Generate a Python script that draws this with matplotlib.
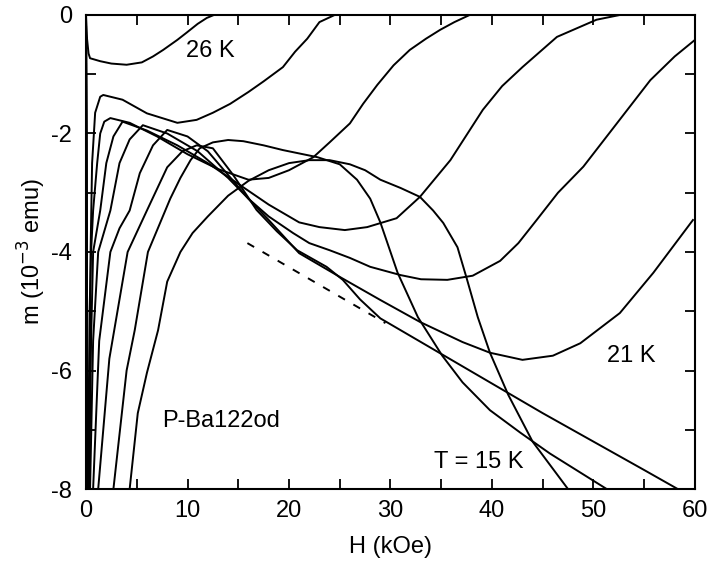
import matplotlib
matplotlib.use("Agg")
import matplotlib.pyplot as plt
from matplotlib.ticker import MultipleLocator

plt.rcParams['font.family'] = ['Liberation Sans', 'DejaVu Sans']
plt.rcParams['axes.unicode_minus'] = False

# m(H) curves, H in kOe, m in 1e-3 emu
h26 = [0.0, 0.1, 0.25, 0.4, 1.4, 2.5, 4.0, 5.5, 6.6, 7.6, 9.0, 9.9, 11.0, 11.9, 12.6]
m26 = [0.0, -0.4, -0.65, -0.73, -0.78, -0.82, -0.84, -0.8, -0.7, -0.59, -0.42, -0.3, -0.15, -0.05, 0.0]

h25 = [0.0, 0.1, 0.2, 0.3, 0.45, 0.6, 0.9, 1.4, 1.7, 3.6, 6.0, 9.0, 10.9, 12.5, 14.2, 16.0, 17.5, 19.4, 20.6, 21.8, 23.0, 24.5]
m25 = [0.0, -8.5, -8.5, -8.0, -4.0, -2.5, -1.65, -1.38, -1.35, -1.43, -1.66, -1.82, -1.77, -1.65, -1.5, -1.3, -1.12, -0.88, -0.62, -0.4, -0.12, 0.0]

h24 = [0.0, 0.1, 0.15, 0.2, 0.35, 0.5, 0.7, 1.1, 1.4, 1.8, 2.4, 4.3, 7.0, 10.0, 13.0, 16.0, 18.0, 20.0, 22.4, 24.0, 26.0,
       27.3, 28.7, 30.3, 31.9, 33.5, 34.9, 36.3, 37.8]
m24 = [0.0, -8.5, -8.5, -8.0, -5.0, -4.0, -3.3, -2.5, -2.0, -1.8, -1.74, -1.82, -2.05, -2.35, -2.6, -2.78, -2.75, -2.62, -2.4, -2.15, -1.83,
       -1.5, -1.18, -0.85, -0.59, -0.4, -0.25, -0.12, 0.0]

h23 = [0.0, 0.1, 0.2, 0.3, 0.5, 0.7, 1.4, 2.0, 2.7, 3.6, 6.0, 9.0, 12.0, 15.0, 18.0, 21.0, 23.0, 25.5, 27.7, 30.6, 32.9,
       35.9, 39.1, 41.0, 43.0, 46.4, 50.3, 52.6]
m23 = [0.0, -8.5, -8.5, -8.0, -5.5, -4.0, -3.3, -2.5, -2.05, -1.8, -1.95, -2.2, -2.5, -2.85, -3.2, -3.5, -3.58, -3.63, -3.58, -3.43, -3.07,
       -2.45, -1.6, -1.2, -0.88, -0.37, -0.08, 0.0]

h22 = [0.0, 0.1, 0.3, 0.4, 0.7, 1.2, 2.4, 3.3, 4.3, 5.6, 8.0, 11.0, 14.0, 16.0, 18.0, 20.4, 22.0, 24.0, 26.0, 28.0, 31.0,
       33.0, 35.6, 38.1, 40.8, 42.6, 44.4, 46.5, 49.0, 52.3, 55.6, 58.0, 60.0]
m22 = [0.0, -8.5, -8.5, -8.0, -5.5, -4.0, -3.3, -2.5, -2.1, -1.86, -2.0, -2.3, -2.75, -3.1, -3.4, -3.68, -3.85, -3.97, -4.1, -4.25, -4.39,
       -4.46, -4.47, -4.4, -4.15, -3.85, -3.46, -3.0, -2.56, -1.83, -1.1, -0.7, -0.42]

h21 = [0.0, 0.1, 0.5, 0.7, 1.3, 2.4, 3.3, 4.3, 5.3, 6.6, 8.0, 10.0, 12.0, 14.0, 16.0, 18.0, 21.0, 25.0, 29.0, 32.9, 37.1,
       39.8, 43.0, 46.0, 48.7, 52.6, 55.9, 59.8]
m21 = [0.0, -8.5, -8.5, -8.0, -5.5, -4.0, -3.6, -3.3, -2.67, -2.2, -1.94, -2.05, -2.3, -2.7, -3.1, -3.46, -4.02, -4.42, -4.81, -5.18, -5.52,
       -5.7, -5.82, -5.75, -5.54, -5.03, -4.35, -3.46]

h20 = [0.0, 0.1, 1.0, 1.2, 2.3, 4.1, 6.0, 8.0, 9.5, 10.9, 12.5, 14.5, 16.8, 18.8, 20.8, 23.7, 25.3, 27.0, 29.0, 35.0, 40.0,
       45.0, 50.0, 55.0, 58.3]
m20 = [0.0, -8.5, -8.5, -8.0, -5.8, -4.0, -3.3, -2.57, -2.3, -2.2, -2.25, -2.7, -3.29, -3.65, -3.97, -4.25, -4.47, -4.8, -5.12, -5.72, -6.22,
       -6.72, -7.2, -7.68, -8.0]

h18 = [0.0, 0.1, 2.5, 2.7, 4.0, 4.8, 6.1, 7.2, 8.3, 9.3, 10.3, 11.2, 12.5, 14.0, 15.5, 17.5, 19.4, 22.8, 25.0, 26.7, 28.0,
       29.0, 30.7, 32.7, 35.1, 37.1, 39.8, 42.8, 45.7, 48.5, 51.3]
m18 = [0.0, -8.5, -8.5, -8.0, -6.0, -5.32, -4.0, -3.55, -3.1, -2.75, -2.45, -2.25, -2.15, -2.11, -2.13, -2.2, -2.28, -2.4, -2.52, -2.78, -3.1,
       -3.5, -4.35, -5.1, -5.75, -6.2, -6.67, -7.05, -7.4, -7.7, -8.0]

h15 = [0.0, 0.1, 4.1, 4.3, 5.1, 6.0, 7.1, 8.0, 9.3, 10.5, 12.0, 14.0, 16.0, 18.0, 20.0, 22.0, 24.0, 26.0, 27.5, 29.0, 31.0,
       32.9, 34.2, 35.2, 36.6, 37.5, 38.6, 39.8, 41.6, 44.0, 47.4]
m15 = [0.0, -8.5, -8.5, -8.0, -6.72, -6.04, -5.32, -4.5, -4.0, -3.68, -3.4, -3.05, -2.8, -2.62, -2.5, -2.45, -2.45, -2.52, -2.62, -2.78, -2.92,
       -3.07, -3.3, -3.51, -3.92, -4.44, -5.1, -5.7, -6.41, -7.2, -7.98]

# linear extrapolation drawn dashed
h_fit = [15.9, 29.5]
m_fit = [-3.85, -5.2]

curves = [(h26, m26), (h25, m25), (h24, m24), (h23, m23), (h22, m22),
          (h21, m21), (h20, m20), (h18, m18), (h15, m15)]

fig = plt.figure(figsize=(7.12, 5.63), dpi=100)
ax = fig.add_axes([0.1208, 0.1314, 0.8553, 0.842])

for h, m in curves:
    ax.plot(h, m, color='k', lw=1.4)
ax.plot(h_fit, m_fit, color='k', lw=1.4, dashes=(4, 5))

ax.set_xlim(0, 60)
ax.set_ylim(-8, 0)
ax.xaxis.set_major_locator(MultipleLocator(10))
ax.xaxis.set_minor_locator(MultipleLocator(5))
ax.yaxis.set_major_locator(MultipleLocator(2))
ax.yaxis.set_minor_locator(MultipleLocator(1))
ax.tick_params(which='both', direction='in', top=True, right=True,
               length=7, width=1.3, labelsize=17)
ax.tick_params(axis='x', pad=8)
ax.tick_params(axis='y', pad=10)
for s in ax.spines.values():
    s.set_linewidth(1.5)

ax.set_xlabel('H (kOe)', fontsize=17, labelpad=10)
ax.set_ylabel(r'm (10$^{-3}$ emu)', fontsize=17, labelpad=2)

ax.text(12.2, -0.6, '26 K', fontsize=17, ha='center', va='center')
ax.text(53.7, -5.75, '21 K', fontsize=17, ha='center', va='center')
ax.text(38.7, -7.55, 'T = 15 K', fontsize=17, ha='center', va='center')
ax.text(13.3, -6.85, 'P-Ba122od', fontsize=17, ha='center', va='center')

fig.savefig('out.png', dpi=100)
